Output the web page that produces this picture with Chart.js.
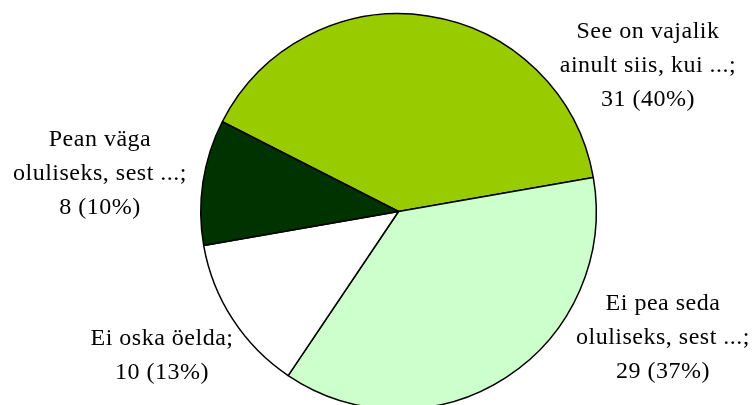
<!DOCTYPE html>
<html><head><meta charset="utf-8">
<script src="https://cdn.jsdelivr.net/npm/chart.js@4/dist/chart.umd.min.js"></script>
<style>
html,body{margin:0;padding:0;overflow:hidden;background:#fff}
#wrap{position:relative;width:753px;height:426px}
</style>
</head><body>
<div id="wrap"><canvas id="c"></canvas></div>
<script>
// Data
const categories = [
  ["See on vajalik", "ainult siis, kui ...;"],
  ["Ei pea seda", "oluliseks, sest ...;"],
  ["Ei oska öelda;"],
  ["Pean väga", "oluliseks, sest ...;"]
];
const counts = [31, 29, 10, 8];
const colors = ["#99CC00", "#CCFFCC", "#FFFFFF", "#003300"];

const total = counts.reduce((a, b) => a + b, 0);
const valueLabels = counts.map(v => v + " (" + Math.round(v / total * 100) + "%)");

// label anchor (center x, first baseline y) — layout only
const labelAnchors = [[648, 38], [663, 310], [162, 345], [100, 146]];
const lineHeight = 34;

const labelPlugin = {
  id: 'pieLabels',
  afterDatasetsDraw(chart) {
    const ctx = chart.ctx;
    ctx.save();
    ctx.fillStyle = '#000';
    ctx.font = '24px "Liberation Serif", "Times New Roman", serif';
    try { ctx.letterSpacing = '0.5px'; } catch (e) {}
    ctx.textAlign = 'center';
    ctx.textBaseline = 'alphabetic';
    categories.forEach((lines, i) => {
      const all = lines.concat([valueLabels[i]]);
      const [x, y] = labelAnchors[i];
      all.forEach((t, j) => ctx.fillText(t, x, y + j * lineHeight));
    });
    ctx.restore();
  }
};

new Chart(document.getElementById('c'), {
  type: 'pie',
  data: {
    labels: categories.map(l => l.join(' ')),
    datasets: [{
      data: counts,
      backgroundColor: colors,
      borderColor: '#000',
      borderWidth: 1.5
    }]
  },
  options: {
    responsive: true,
    maintainAspectRatio: false,
    animation: false,
    rotation: -63,
    layout: { padding: { left: 44, right: 0, top: 13, bottom: 16 } },
    plugins: { legend: { display: false }, tooltip: { enabled: false } }
  },
  plugins: [labelPlugin]
});
</script>
</body></html>
